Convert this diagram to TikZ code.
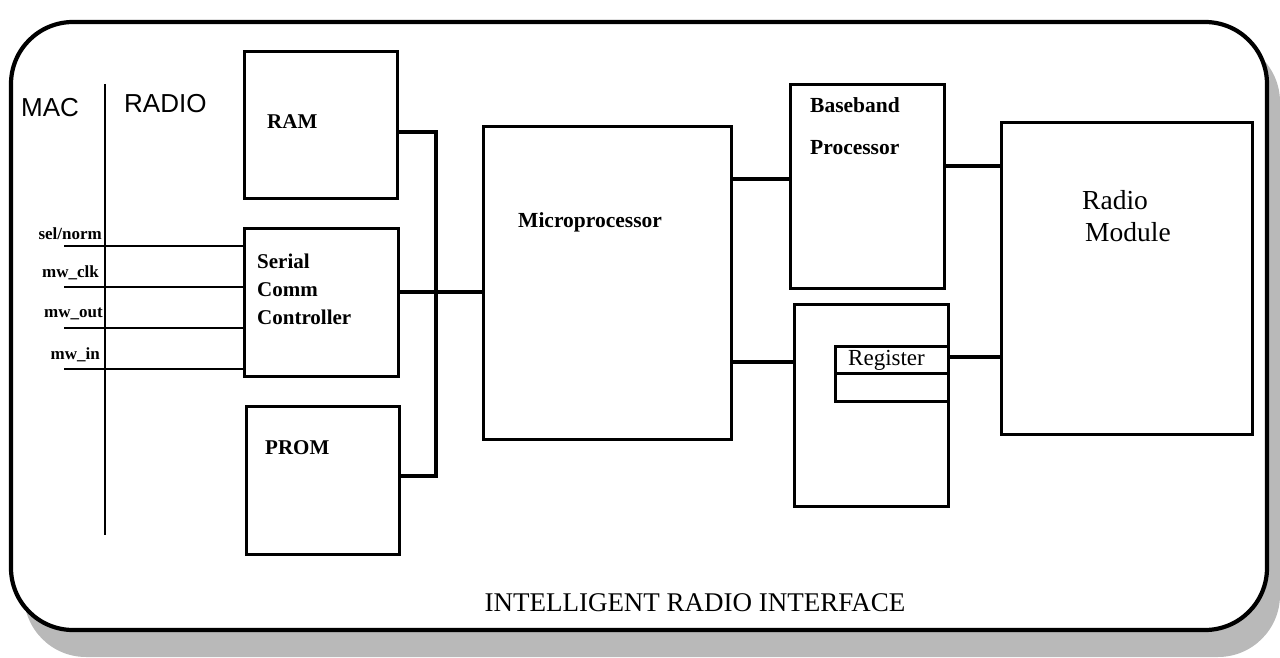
\documentclass[tikz,border=0pt]{standalone}
\usepackage{fontspec}
\setmainfont{Liberation Serif}
\setsansfont{Liberation Sans}
\begin{document}
\begin{tikzpicture}[x=1pt,y=-1pt,
  blk/.style={draw, line width=3.2pt, inner sep=0pt, anchor=north west},
  conn/.style={line width=4.5pt, line join=miter},
  sig/.style={line width=2.8pt},
  divider/.style={line width=2.6pt},
  lbl/.style={inner sep=0pt, font=\bfseries\fontsize{21}{28}\selectfont, align=left},
  siglbl/.style={inner sep=0pt, anchor=east, font=\bfseries\fontsize{17}{17}\selectfont},
  sanslbl/.style={inner sep=0pt, anchor=west, font=\sffamily\fontsize{26}{26}\selectfont}]
\useasboundingbox (0,0) rectangle (1280,658);
% shadow and frame
\fill[gray!55, rounded corners=62pt] (24,40) rectangle (1280,657);
\draw[line width=4.2pt, fill=white, rounded corners=62pt] (11,22) rectangle (1267,630);
% MAC / RADIO divider
\coordinate (divTop) at (105,84);
\coordinate (divBot) at (105,535);
\draw[divider] (divTop) -- (divBot);
\node[sanslbl] (mac) at (21,108) {MAC};
\node[sanslbl] (radio) at (124,104) {RADIO};
% blocks
\node[blk, minimum width=153pt, minimum height=147pt] (ram) at (243,50) {};
\node[blk, minimum width=154pt, minimum height=148pt] (scc) at (243,227) {};
\node[blk, minimum width=153pt, minimum height=148pt] (prom) at (245,405) {};
\node[blk, minimum width=248pt, minimum height=313pt] (micro) at (482,125) {};
\node[blk, minimum width=154pt, minimum height=204pt] (bb) at (789,83) {};
\node[blk, minimum width=154pt, minimum height=202pt] (ctl) at (793,303) {};
\node[blk, minimum width=113pt, minimum height=55pt] (reg) at (834,345) {};
\node[blk, minimum width=251pt, minimum height=312pt] (rm) at (1000,121) {};
\draw[line width=3pt] (reg.west |- 0,373) -- (reg.east |- 0,373);
% labels
\node[lbl, anchor=west] (ramL) at (267,122) {RAM};
\node[lbl, anchor=north west] (sccL) at (257,254) {Serial\\Comm\\Controller};
\node[lbl, anchor=west] (promL) at (265,448) {PROM};
\node[lbl, anchor=west, font=\bfseries\fontsize{21.5}{21.5}\selectfont] (microL) at (518,222) {Microprocessor};
\node[lbl, anchor=north west, font=\bfseries\fontsize{21.5}{42}\selectfont] (bbL) at (810,97) {Baseband\\Processor};
\node[inner sep=0pt, anchor=west, font=\fontsize{23}{23}\selectfont] (regL) at (848,360) {Register};
\node[inner sep=0pt, anchor=north west, align=left, font=\fontsize{27.5}{32}\selectfont] (rmL) at (1082,190) {Radio\\\hspace*{3pt}Module};
\node[inner sep=0pt, font=\fontsize{27}{27}\selectfont] (title) at (695,603) {INTELLIGENT RADIO INTERFACE};
% signals
\node[siglbl] (l1) at (102,234) {sel/norm};
\node[siglbl] (l2) at (99,273) {mw\_clk};
\node[siglbl] (l3) at (103,314) {mw\_out};
\node[siglbl] (l4) at (100,355) {mw\_in};
\coordinate (s1) at (64,246);
\coordinate (s2) at (64,287);
\coordinate (s3) at (64,328);
\coordinate (s4) at (64,369);
\draw[sig] (s1) -- (scc.west |- s1);
\draw[sig] (s2) -- (scc.west |- s2);
\draw[sig] (s3) -- (scc.west |- s3);
\draw[sig] (s4) -- (scc.west |- s4);
% bus
\coordinate (busTop) at (436,132);
\coordinate (busBot) at (436,476);
\coordinate (sccY) at (0,292);
\draw[conn] (ram.east |- busTop) -- (busTop) -- (busBot) -- (prom.east |- busBot);
\draw[conn] (scc.east |- sccY) -- (micro.west |- sccY);
\coordinate (mbY) at (0,179);
\coordinate (mcY) at (0,362);
\coordinate (brY) at (0,166);
\coordinate (rrY) at (0,357);
\draw[conn] (micro.east |- mbY) -- (bb.west |- mbY);
\draw[conn] (micro.east |- mcY) -- (ctl.west |- mcY);
\draw[conn] (bb.east |- brY) -- (rm.west |- brY);
\draw[conn] (reg.east |- rrY) -- (rm.west |- rrY);
\end{tikzpicture}
\end{document}
